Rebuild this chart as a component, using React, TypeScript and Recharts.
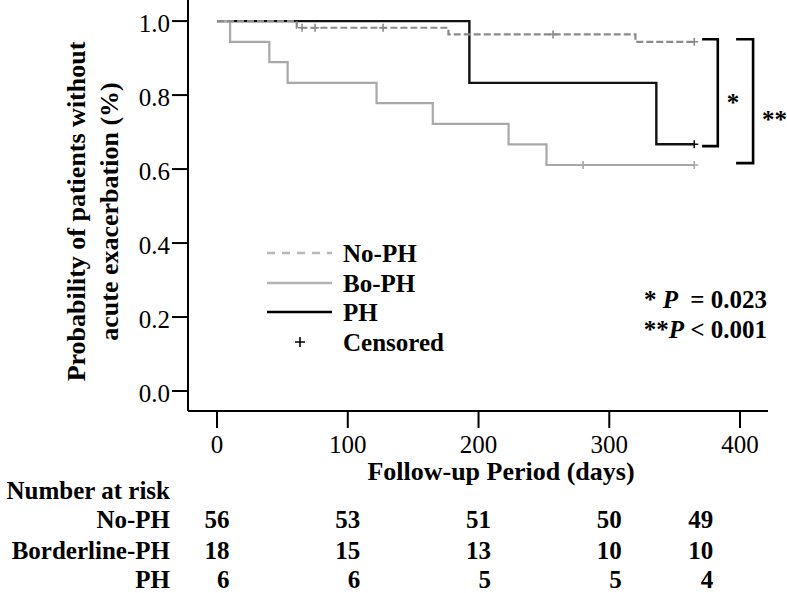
import React from 'react';
import { ComposedChart, Line, Scatter, XAxis, YAxis, Legend, Label, Customized } from 'recharts';

const FONT = '"Liberation Serif", "Times New Roman", serif';

// Kaplan-Meier step curves (time in days, probability)
const noPhCurve = [
  { t: 0, p: 1 }, { t: 61, p: 0.982 }, { t: 177, p: 0.964 }, { t: 320, p: 0.944 }, { t: 365, p: 0.944 },
];
const boPhCurve = [
  { t: 0, p: 1 }, { t: 10, p: 0.944 }, { t: 40, p: 0.889 }, { t: 54, p: 0.833 }, { t: 122, p: 0.778 },
  { t: 165, p: 0.722 }, { t: 223, p: 0.667 }, { t: 252, p: 0.611 }, { t: 365, p: 0.611 },
];
const phCurve = [
  { t: 0, p: 1 }, { t: 193, p: 0.833 }, { t: 336, p: 0.667 }, { t: 365, p: 0.667 },
];

// Censored observations
const noPhCensored = [
  { t: 65, p: 0.982 }, { t: 75, p: 0.982 }, { t: 127, p: 0.982 }, { t: 257, p: 0.964 }, { t: 365, p: 0.944 },
];
const boPhCensored = [{ t: 280, p: 0.611 }, { t: 365, p: 0.611 }];
const phCensored = [{ t: 365, p: 0.667 }];

// Significance brackets
const starBracket = [
  { t: 371, p: 0.951 }, { t: 383, p: 0.951 }, { t: 383, p: 0.662 }, { t: 371, p: 0.662 },
];
const doubleStarBracket = [
  { t: 397, p: 0.951 }, { t: 410, p: 0.951 }, { t: 410, p: 0.616 }, { t: 397, p: 0.616 },
];
const sigMarks = [
  { t: 383, p: 0.792, text: '*' },
  { t: 410, p: 0.746, text: '**' },
];

// Axes
const xTicks = [0, 100, 200, 300, 400];
const yTicks = [0, 0.2, 0.4, 0.6, 0.8, 1.0];

// Number at risk table
const riskTimes = [0, 100, 200, 300, 370];
const riskRowLabels = ['No-PH', 'Borderline-PH', 'PH'];
const riskNoPh = [56, 53, 51, 50, 49];
const riskBoPh = [18, 15, 13, 10, 10];
const riskPh = [6, 6, 5, 5, 4];
const riskRows = [riskNoPh, riskBoPh, riskPh];

const seriesNames = ['No-PH', 'Bo-PH', 'PH', 'Censored'];

const NO_PH_COLOR = '#8a8a8a';
const BO_PH_COLOR = '#a8a8a8';
const PH_COLOR = '#111111';

const ROW_OFFS = [108, 139.5, 168.5];

const allXTicks = Array.from(new Set([...xTicks, ...riskTimes])).sort((a, b) => a - b);

const plusShape = (color: string) => (props: any) => {
  const { cx, cy } = props;
  if (cx == null || cy == null) return <g />;
  return (
    <path d={`M${cx - 4},${cy}H${cx + 4}M${cx},${cy - 4}V${cy + 4}`} stroke={color} strokeWidth={1.6} fill="none" />
  );
};

const sigShape = (props: any) => {
  const { cx, cy, payload } = props;
  if (cx == null || cy == null) return <g />;
  return (
    <text x={cx + 9} y={cy + 13} fontFamily={FONT} fontWeight="bold" fontSize={25} fill="#000">
      {payload.text}
    </text>
  );
};

const XTick = (props: any) => {
  const { x, y, payload } = props;
  const v = payload.value;
  const items: any[] = [];
  if (xTicks.includes(v)) {
    items.push(<line key="l" x1={x} x2={x} y1={y + 1} y2={y + 17} stroke="#000" strokeWidth={2} />);
    items.push(
      <text key="t" x={x} y={y + 33} dy="0.35em" textAnchor="middle" fontFamily={FONT} fontSize={25} fill="#000">
        {v}
      </text>
    );
  }
  const ri = riskTimes.indexOf(v);
  if (ri >= 0) {
    riskRows.forEach((row, k) => {
      items.push(
        <text key={'r' + k} x={x + 12.5} y={y + ROW_OFFS[k]} dy="0.35em" textAnchor="end" fontFamily={FONT} fontWeight="bold" fontSize={25} fill="#000">
          {row[ri]}
        </text>
      );
    });
  }
  return <g>{items}</g>;
};

const YTick = (props: any) => {
  const { x, y, payload } = props;
  return (
    <text x={x} y={y + 2} dy="0.35em" textAnchor="end" fontFamily={FONT} fontSize={25} fill="#000">
      {Number(payload.value).toFixed(1)}
    </text>
  );
};

const YLabel = (props: any) => {
  const vb = props.viewBox || { x: 0, y: 0, width: 188, height: 411 };
  const cy = vb.y + vb.height / 2 + 6;
  const x1 = vb.x + 76;
  const x2 = vb.x + 109;
  return (
    <g fontFamily={FONT} fontWeight="bold" fontSize={26} fill="#000">
      <text x={x1} y={cy} dy="0.35em" textAnchor="middle" transform={`rotate(-90 ${x1} ${cy})`}>
        Probability of patients without
      </text>
      <text x={x2} y={cy} dy="0.35em" textAnchor="middle" transform={`rotate(-90 ${x2} ${cy})`}>
        acute exacerbation (%)
      </text>
    </g>
  );
};

const XLabel = (props: any) => {
  const vb = props.viewBox || { x: 188, y: 411, width: 580, height: 182 };
  const left = vb.x - 18;
  return (
    <g fontFamily={FONT} fontWeight="bold" fontSize={25} fill="#000">
      <text x={vb.x + 313} y={vb.y + 60} dy="0.35em" textAnchor="middle" fontSize={26}>Follow-up Period (days)</text>
      <text x={left} y={vb.y + 79} dy="0.35em" textAnchor="end">Number at risk</text>
      {riskRowLabels.map((r, k) => (
        <text key={r} x={left} y={vb.y + ROW_OFFS[k]} dy="0.35em" textAnchor="end">{r}</text>
      ))}
    </g>
  );
};

const LegendContent = () => {
  const rows = [253, 283, 312, 342].map((v) => v - 238);
  const styles = [
    { color: '#b8b8b8', dash: '8 7' },
    { color: '#b4b4b4', dash: undefined },
    { color: '#000', dash: undefined },
  ];
  return (
    <svg width={200} height={130} style={{ overflow: 'visible' }}>
      {seriesNames.map((name, i) => (
        <g key={name}>
          {i < 3 ? (
            <line x1={5} x2={70} y1={rows[i]} y2={rows[i]} stroke={styles[i].color} strokeWidth={2.6} strokeDasharray={styles[i].dash} />
          ) : (
            <path d={`M${38 - 5},${rows[i]}H${38 + 5}M${38},${rows[i] - 5}V${rows[i] + 5}`} stroke="#000" strokeWidth={1.6} />
          )}
          <text x={81} y={rows[i]} dy="0.35em" fontFamily={FONT} fontWeight="bold" fontSize={25} fill="#000">{name}</text>
        </g>
      ))}
    </svg>
  );
};

const PValues = () => (
  <g fontFamily={FONT} fontWeight="bold" fontSize={25} fill="#000">
    <text x={767} y={308} textAnchor="end">
      <tspan>* </tspan>
      <tspan fontStyle="italic">P</tspan>
      <tspan dx={6}> = 0.023</tspan>
    </text>
    <text x={767} y={338} textAnchor="end">
      <tspan>**</tspan>
      <tspan fontStyle="italic">P</tspan>
      <tspan> &lt; 0.001</tspan>
    </text>
  </g>
);

export default function App() {
  return (
    <div style={{ position: 'absolute', left: 0, top: 0, width: 787, height: 593, background: '#fff' }}>
      <ComposedChart width={787} height={593} margin={{ top: 0, right: 19, bottom: 0, left: 0 }}>
        <XAxis
          type="number"
          dataKey="t"
          domain={[-22.2, 421.4]}
          ticks={allXTicks}
          interval={0}
          tick={<XTick />}
          tickLine={false}
          tickSize={0}
          tickMargin={0}
          height={182}
          axisLine={{ stroke: '#000', strokeWidth: 2 }}
        >
          <Label content={<XLabel />} />
        </XAxis>
        <YAxis
          type="number"
          dataKey="p"
          domain={[-0.054, 1.057]}
          ticks={yTicks}
          interval={0}
          width={188}
          tickSize={16}
          tickMargin={2}
          tick={<YTick />}
          tickLine={{ stroke: '#000', strokeWidth: 2 }}
          axisLine={{ stroke: '#000', strokeWidth: 2 }}
        >
          <Label content={<YLabel />} />
        </YAxis>
        <Line data={phCurve} dataKey="p" type="stepAfter" stroke={PH_COLOR} strokeWidth={2.4} dot={false} isAnimationActive={false} />
        <Line data={boPhCurve} dataKey="p" type="stepAfter" stroke={BO_PH_COLOR} strokeWidth={2.2} dot={false} isAnimationActive={false} />
        <Line data={noPhCurve} dataKey="p" type="stepAfter" stroke={NO_PH_COLOR} strokeWidth={2.2} strokeDasharray="7 3" dot={false} isAnimationActive={false} />
        <Scatter data={noPhCensored} fill={NO_PH_COLOR} shape={plusShape(NO_PH_COLOR)} isAnimationActive={false} />
        <Scatter data={boPhCensored} fill={BO_PH_COLOR} shape={plusShape(BO_PH_COLOR)} isAnimationActive={false} />
        <Scatter data={phCensored} fill={PH_COLOR} shape={plusShape(PH_COLOR)} isAnimationActive={false} />
        <Line data={starBracket} dataKey="p" type="linear" stroke="#000" strokeWidth={2.6} dot={false} isAnimationActive={false} />
        <Line data={doubleStarBracket} dataKey="p" type="linear" stroke="#000" strokeWidth={2.6} dot={false} isAnimationActive={false} />
        <Scatter data={sigMarks} shape={sigShape} isAnimationActive={false} />
        <Legend
          layout="vertical"
          align="center"
          verticalAlign="middle"
          content={<LegendContent />}
          wrapperStyle={{ position: 'absolute', left: 262, top: 238, width: 200, height: 130 }}
        />
        <Customized component={<PValues />} />
      </ComposedChart>
    </div>
  );
}
